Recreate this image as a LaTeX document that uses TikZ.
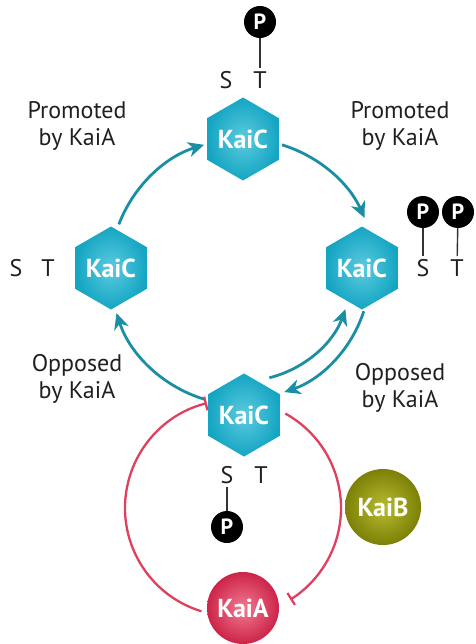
\documentclass[tikz,border=0pt]{standalone}
\usepackage{fontspec}
\setmainfont{PT Sans}
\usetikzlibrary{shapes.geometric,arrows.meta,calc}
\definecolor{arrowteal}{HTML}{1A8FA3}
\definecolor{hexin}{HTML}{5CCBE0}
\definecolor{hexout}{HTML}{14A5C2}
\definecolor{redline}{HTML}{E0405E}
\definecolor{kaiain}{HTML}{F27A92}
\definecolor{kaiaout}{HTML}{CC2448}
\definecolor{kaibin}{HTML}{B8BC30}
\definecolor{kaibout}{HTML}{7C8006}
\definecolor{labeltext}{HTML}{231F20}
\begin{document}
\begin{tikzpicture}[x=1pt,y=1pt,
  hex/.style={regular polygon, regular polygon sides=6, shape border rotate=30,
    minimum size=83pt, inner sep=0pt,
    shading=radial, inner color=hexin, outer color=hexout, text=white,
    font=\bfseries\fontsize{26}{26}\selectfont},
  ball/.style={circle, minimum size=#1, inner sep=0pt, text=white,
    font=\bfseries\fontsize{26}{26}\selectfont},
  phos/.style={circle, fill=black, minimum size=32pt, inner sep=0pt, text=white,
    font=\bfseries\fontsize{22}{22}\selectfont},
  lbl/.style={text=labeltext, font=\fontsize{24}{27}\selectfont, align=center},
  st/.style={text=labeltext, font=\fontsize{24}{24}\selectfont},
  tarrow/.style={arrowteal, line width=2.8pt, -{Stealth[length=16pt,width=15pt,inset=5pt]}},
  rbar/.style={redline, line width=2.3pt, -{Bar[width=14pt,line width=2.3pt]}},
  plink/.style={black!80, line width=1.4pt}]
\useasboundingbox (0,0) rectangle (475,-644);

% ring coordinates
\coordinate (ring) at (243,-272);
\coordinate (red) at (233,-508);

% teal arcs
\draw[tarrow] ($(ring)+(159:133)$) arc[start angle=159, end angle=107, radius=133];
\draw[tarrow] ($(ring)+(73:133)$) arc[start angle=73, end angle=24, radius=133];
\draw[tarrow] ($(ring)+(-107:133)$) arc[start angle=-107, end angle=-162, radius=133];
\draw[tarrow] ($(ring)+(-76:109)$) arc[start angle=-76, end angle=-20, radius=109];
\draw[tarrow] ($(ring)+(-18:127)$) arc[start angle=-18, end angle=-71, radius=127];

% red arcs
\draw[rbar] ($(red)+(253:108)$) arc[start angle=253, end angle=104, radius=108];
\draw[rbar] ($(red)+(61:108)$) arc[start angle=61, end angle=-58, radius=108];

% hexagons
\node[hex] (top) at (243,-139) {KaiC};
\node[hex] (left) at (111,-268) {KaiC};
\node[hex] (right) at (362,-268) {KaiC};
\node[hex] (bottom) at (244,-415) {KaiC};

% balls
\node[ball=76pt, shading=radial, inner color=kaibin, outer color=kaibout] (kaib) at (383,-507) {KaiB};
\node[ball=72pt, shading=radial, inner color=kaiain, outer color=kaiaout] (kaia) at (243,-608) {KaiA};

% labels
\node[lbl] (l1) at (77,-126) {Promoted\\by KaiA};
\node[lbl] (l2) at (400,-126) {Promoted\\by KaiA};
\node[lbl] (l3) at (77,-379) {Opposed\\by KaiA};
\node[lbl] (l4) at (400,-388) {Opposed\\by KaiA};

% S T top
\node[st] (tS) at (226,-80) {S};
\node[st] (tT) at (260,-80) {T};
\node[phos] (tP) at (260,-22) {P};
\draw[plink] (tP) -- (tT);

% S T right
\node[st] (rS) at (423,-268) {S};
\node[st] (rT) at (457,-268) {T};
\node[phos] (rP1) at (423,-212) {P};
\node[phos] (rP2) at (458,-212) {P};
\draw[plink] (rP1) -- (rS);
\draw[plink] (rP2) -- (rT);

% S T left
\node[st] (lS) at (16,-268) {S};
\node[st] (lT) at (48,-268) {T};

% S T bottom
\node[st] (bS) at (227,-475) {S};
\node[st] (bT) at (261,-475) {T};
\node[phos] (bP) at (227,-527) {P};
\draw[plink] (bS) -- (bP);
\end{tikzpicture}
\end{document}
